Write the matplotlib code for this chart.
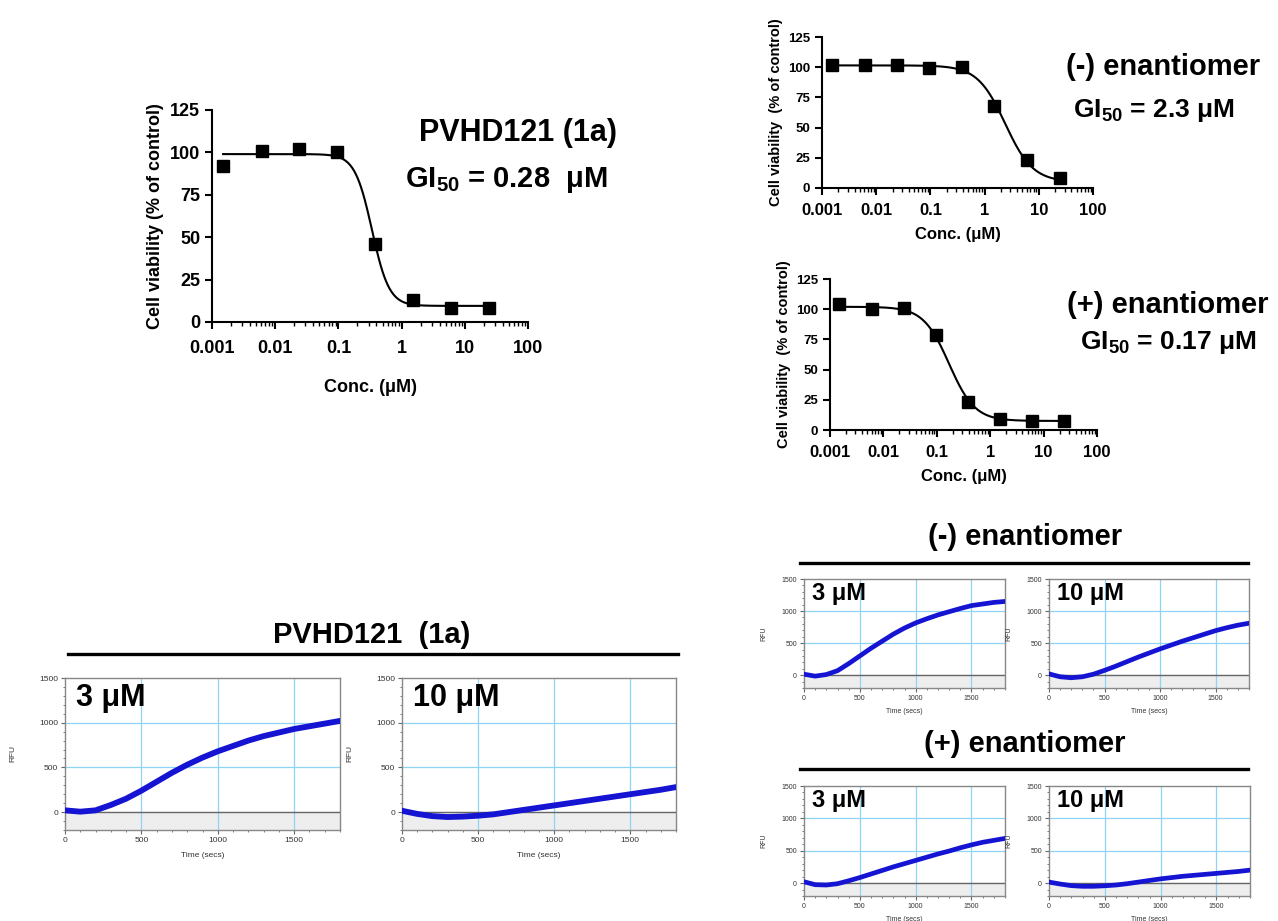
import numpy as np
import matplotlib

matplotlib.use("Agg")
import matplotlib.pyplot as plt
from matplotlib.ticker import MultipleLocator, LogLocator, NullFormatter

plt.rcParams["font.family"] = ["Liberation Sans", "DejaVu Sans"]
plt.rcParams["mathtext.fontset"] = "custom"
plt.rcParams["mathtext.rm"] = "Liberation Sans"
plt.rcParams["mathtext.bf"] = "Liberation Sans:bold"

W, H = 1278, 921

# dose-response data (4-fold dilutions, uM)
conc = [0.0015, 0.0061, 0.024, 0.095, 0.38, 1.5, 6.1, 24.4]
conc_ticks = [0.001, 0.01, 0.1, 1, 10, 100]
conc_labels = ["0.001", "0.01", "0.1", "1", "10", "100"]
via_1a = [92, 101, 102, 100, 46, 13, 8.5, 8]
via_minus = [102, 101.5, 101.5, 99.5, 100, 68, 23, 8.5]
via_plus = [104, 100, 101, 79, 23, 9, 7.5, 7.5]
err_plus = [4, 3, 1, 3, 1.5, 1, 0.5, 0.5]

# fitted 4PL parameters (top, bottom, ec50, hill)
fit_1a = (99, 9.5, 0.34, 3.2)
fit_minus = (101.5, 5, 2.4, 1.7)
fit_plus = (102, 7.5, 0.17, 1.8)

# kinetic traces, RFU every 100 s
time_s = [0, 100, 200, 300, 400, 500, 600, 700, 800, 900, 1000,
          1100, 1200, 1300, 1400, 1500, 1600, 1700, 1800]
rfu_1a_3 = [20, 5, 20, 80, 150, 240, 340, 440, 530, 610, 680,
            740, 800, 850, 890, 930, 960, 990, 1020]
rfu_1a_10 = [15, -20, -45, -55, -50, -40, -25, 0, 25, 50, 75,
             100, 125, 150, 175, 200, 225, 250, 280]
rfu_minus_3 = [15, -15, 10, 70, 180, 300, 420, 530, 640, 735, 815,
               880, 940, 990, 1040, 1085, 1110, 1135, 1150]
rfu_minus_10 = [20, -25, -40, -25, 15, 75, 140, 210, 280, 345, 410,
                470, 530, 585, 640, 695, 740, 780, 810]
rfu_plus_3 = [20, -25, -30, -10, 35, 85, 140, 195, 250, 300, 350,
              400, 450, 495, 545, 590, 630, 660, 690]
rfu_plus_10 = [15, -15, -40, -50, -50, -42, -30, -10, 15, 40, 65,
               85, 105, 120, 135, 150, 165, 180, 200]

fig = plt.figure(figsize=(W / 100, H / 100), dpi=100)


def px_axes(l, r, t, b):
    return fig.add_axes([l / W, 1 - b / H, (r - l) / W, (b - t) / H])


def fx(x):
    return x / W


def fy(y):
    return 1 - y / H


def dose_panel(ax, y, fit, yerr=None, xfs=13, yfs=10, labfs=13, xpad=4, labpad=4,
               ylab="Cell viability (% of control)"):
    top, bot, ec50, hill = fit
    xs = np.logspace(np.log10(conc[0]), np.log10(conc[-1]), 300)
    ax.plot(xs, bot + (top - bot) / (1 + (xs / ec50) ** hill), color="black", lw=1.5)
    if yerr is not None:
        ax.errorbar(conc, y, yerr=yerr, fmt="none", ecolor="black", elinewidth=1.5, capsize=3)
    ax.plot(conc, y, "s", color="black", ms=8)
    ax.set_xscale("log")
    ax.set_xlim(0.001, 100)
    ax.set_ylim(0, 125)
    ax.set_yticks([0, 25, 50, 75, 100, 125])
    ax.set_xticks(conc_ticks, conc_labels)
    ax.xaxis.set_minor_locator(LogLocator(base=10, subs=np.arange(2, 10), numticks=10))
    ax.xaxis.set_minor_formatter(NullFormatter())
    for s in ("top", "right"):
        ax.spines[s].set_visible(False)
    for s in ("left", "bottom"):
        ax.spines[s].set_linewidth(1.5)
    ax.tick_params(axis="both", which="major", width=1.5, length=5)
    ax.tick_params(axis="x", which="major", pad=xpad)
    ax.tick_params(axis="x", which="minor", width=1, length=3)
    for lab in ax.get_xticklabels():
        lab.set_fontsize(xfs)
        lab.set_fontweight("bold")
    for lab in ax.get_yticklabels():
        lab.set_fontsize(yfs)
        lab.set_fontweight("bold")
    ax.set_xlabel("Conc. (μM)", fontsize=labfs, fontweight="bold", labelpad=labpad)
    ax.set_ylabel(ylab, fontsize=yfs + 1 if yfs < 12 else yfs, fontweight="bold")


def kin_panel(ax, rfu, label, big=True):
    ax.axhspan(-200, 0, color="#eeeeee", zorder=0)
    for v in (500, 1000, 1500):
        ax.axvline(v, color="#8fd3f5", lw=0.9, zorder=1)
    for v in (500, 1000):
        ax.axhline(v, color="#8fd3f5", lw=0.9, zorder=1)
    ax.axhline(0, color="#666666", lw=1, zorder=2)
    ax.plot(time_s, rfu, color="#1414d2", lw=4.2 if big else 3.4,
            solid_capstyle="round", solid_joinstyle="round", zorder=3)
    ax.set_xlim(0, 1800)
    ax.set_ylim(-200, 1500)
    ax.set_xticks([0, 500, 1000, 1500])
    ax.set_yticks([0, 500, 1000, 1500])
    ax.xaxis.set_minor_locator(MultipleLocator(100))
    ax.yaxis.set_minor_locator(MultipleLocator(100))
    for s in ax.spines.values():
        s.set_color("#888888")
        s.set_linewidth(1)
    tfs = 6 if big else 5
    ax.tick_params(which="major", length=3, width=0.8, color="#666666",
                   labelsize=tfs, labelcolor="#333333", pad=2)
    ax.tick_params(which="minor", length=1.5, width=0.6, color="#666666")
    ax.set_ylabel("RFU", fontsize=tfs, color="#333333", labelpad=16 if big else 10)
    ax.set_xlabel("Time (secs)", fontsize=tfs, color="#333333", labelpad=6 if big else 4)
    ax.text(0.04, 0.97, label, transform=ax.transAxes, ha="left", va="top",
            fontsize=22 if big else 17, fontweight="bold", zorder=4)


# top-left dose response
ax = px_axes(212, 528, 110, 322)
dose_panel(ax, via_1a, fit_1a, xfs=13, yfs=13, labfs=13, xpad=8, labpad=16)
fig.text(fx(518), fy(133), "PVHD121 (1a)", fontsize=22, fontweight="bold", ha="center", va="center")
fig.text(fx(405), fy(180), r"GI$_{\mathbf{50}}$ = 0.28  μM", fontsize=21, fontweight="bold",
         ha="left", va="center")

# top-right dose responses
ax = px_axes(822, 1093, 37, 188)
dose_panel(ax, via_minus, fit_minus, xfs=12, yfs=9.5, labfs=12, xpad=6, labpad=6,
           ylab="Cell viability  (% of control)")
fig.text(fx(1066), fy(67), "(-) enantiomer", fontsize=21, fontweight="bold", ha="left", va="center")
fig.text(fx(1073), fy(110), r"GI$_{\mathbf{50}}$ = 2.3 μM", fontsize=19, fontweight="bold",
         ha="left", va="center")

ax = px_axes(830, 1097, 279, 430)
dose_panel(ax, via_plus, fit_plus, yerr=err_plus, xfs=12, yfs=9.5, labfs=12, xpad=6, labpad=6,
           ylab="Cell viability  (% of control)")
fig.text(fx(1067), fy(305), "(+) enantiomer", fontsize=21, fontweight="bold", ha="left", va="center")
fig.text(fx(1080), fy(343), r"GI$_{\mathbf{50}}$ = 0.17 μM", fontsize=19, fontweight="bold",
         ha="left", va="center")

# bottom-left kinetics
fig.text(fx(372), fy(635), "PVHD121  (1a)", fontsize=21, fontweight="bold", ha="center", va="center")
fig.add_artist(plt.Line2D([fx(68), fx(678)], [fy(654), fy(654)], color="black", lw=2.4))
kin_panel(px_axes(65, 340, 678, 830), rfu_1a_3, "3 μM")
kin_panel(px_axes(402, 676, 678, 830), rfu_1a_10, "10 μM")

# bottom-right kinetics
fig.text(fx(1025), fy(537), "(-) enantiomer", fontsize=21, fontweight="bold", ha="center", va="center")
fig.add_artist(plt.Line2D([fx(800), fx(1248)], [fy(563), fy(563)], color="black", lw=2.4))
kin_panel(px_axes(804, 1005, 579, 688), rfu_minus_3, "3 μM", big=False)
kin_panel(px_axes(1049, 1249, 579, 688), rfu_minus_10, "10 μM", big=False)

fig.text(fx(1025), fy(744), "(+) enantiomer", fontsize=21, fontweight="bold", ha="center", va="center")
fig.add_artist(plt.Line2D([fx(800), fx(1248)], [fy(769), fy(769)], color="black", lw=2.4))
kin_panel(px_axes(804, 1005, 786, 896), rfu_plus_3, "3 μM", big=False)
kin_panel(px_axes(1049, 1250, 786, 896), rfu_plus_10, "10 μM", big=False)

fig.savefig("out.png", dpi=100)
